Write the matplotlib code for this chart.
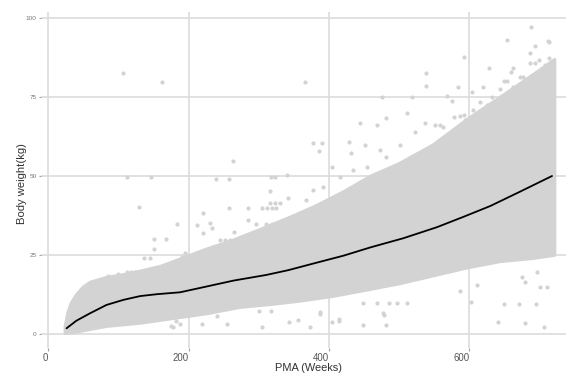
import matplotlib
matplotlib.use("Agg")
import matplotlib.pyplot as plt

plt.rcParams['font.family'] = ['Liberation Sans', 'DejaVu Sans']

# ---- data ----
# smoothed trend line
trend_x = [26, 40, 59, 83, 107, 131, 155, 188, 192, 223, 264, 311, 342, 383, 421,
           459, 506, 554, 592, 630, 672, 718]
trend_y = [1.9, 4.3, 6.6, 9.3, 10.9, 12.1, 12.7, 13.3, 13.5, 15.0, 17.0, 18.8, 20.3,
           22.7, 24.9, 27.5, 30.4, 33.9, 37.2, 40.6, 45.1, 50.1]

# envelope of the dense point cloud
cloud_upper_x = [24, 28, 33, 40, 50, 60, 83, 110, 131, 160, 190, 226, 260, 300, 344,
                 380, 420, 459, 500, 549, 597, 644, 690, 722]
cloud_upper_y = [2.5, 7, 10, 12.5, 15, 16.5, 18, 19, 20, 21.5, 24, 27, 29.5, 33, 37,
                 40.5, 45, 50, 54, 60, 68, 75, 82, 87]
cloud_lower_x = [24, 36, 59, 83, 131, 178, 226, 273, 320, 359, 406, 454, 501,
                 549, 597, 644, 691, 722]
cloud_lower_y = [0.3, 0.5, 1.5, 2.5, 3.5, 5, 6.5, 8.5, 9.5, 10.5, 12, 14, 16,
                 18.5, 21, 23, 24, 25]

# sparse individual observations outside the dense cloud
pts_x = [107, 162, 112, 147, 263, 239, 258, 317, 323, 340,
         129, 183, 151, 168, 151, 136, 145, 220, 212, 230, 234, 221, 258, 265, 316, 341,
         245, 252, 259, 266, 273, 280, 287, 294,
         285, 305, 312, 319, 325, 285, 296, 310, 319, 316, 323, 330,
         52, 57, 62, 45, 112, 118, 124, 130, 136, 85, 99, 190, 195,
         235, 254,
         175, 182, 188, 178, 219, 240, 255, 300, 317, 343, 356, 388, 415, 478, 304,
         373, 449, 481, 641, 679, 707, 603, 649, 671, 695,
         387, 404, 415, 477, 449, 468, 485, 497, 511, 611, 587, 697, 701, 711, 675, 680,
         366, 592, 538, 538, 584, 604, 620, 628, 654, 688, 694, 712, 687,
         475, 519, 512, 481, 468, 445, 569, 575, 579,
         378, 390, 386, 428, 451, 432, 404, 378, 473, 501, 416, 435, 454, 482, 368, 392,
         713, 687, 694, 700, 713, 708, 715, 663, 659, 649, 654, 672, 676, 682, 691, 701,
         711, 713, 672, 687, 694, 703, 714, 663, 644, 632, 646, 656, 668, 615, 625, 637,
         606, 587, 592, 594, 558, 563, 551, 537, 523]
pts_y = [82.6, 79.9, 49.9, 49.9, 54.9, 49.1, 49.1, 49.7, 49.9, 50.4,
         40.2, 34.9, 30.1, 30.1, 26.9, 24.0, 24.2, 38.3, 34.5, 35.1, 33.5, 32.0, 40.1,
         32.3, 45.3, 43.0,
         30, 30, 30, 30, 30, 30, 30, 30,
         39.9, 40, 40, 40, 40, 36.2, 35, 35, 35, 41.7, 41.7, 41.7,
         14.5, 16, 13.5, 13, 19.8, 19.8, 19.8, 19.8, 19.8, 18.5, 19, 24.6, 25.6,
         27.7, 28.3,
         2.5, 4.3, 3.4, 2.3, 3.4, 5.8, 3.4, 7.4, 7.4, 4.0, 4.6, 6.3, 4.3, 6.0, 2.3,
         2.3, 2.9, 2.9, 3.8, 3.5, 2.3, 10.3, 9.7, 9.5, 9.7,
         7.0, 4.0, 4.7, 6.6, 10, 10, 10, 10, 10, 15.6, 13.8, 19.8, 14.9, 14.9, 18, 16.6,
         79.9, 87.8, 82.6, 78.6, 78.2, 76.8, 78.2, 84.2, 93.1, 97.2, 91.2, 92.9, 89.1,
         75, 75, 70.1, 68.4, 66.2, 67, 75.4, 73.9, 68.7,
         60.4, 60.4, 58.1, 61, 59.9, 57.3, 53, 45.7, 58.3, 59.9, 49.9, 52, 53, 56.2,
         42.5, 46.7,
         92.4, 85.9, 85.9, 86.8, 87.3, 85.2, 84.7, 84.2, 83.1, 80.3, 80.3, 81.5, 81.5,
         80, 81, 82.6, 82.6, 81, 78.4, 78.9, 78.2, 79.2, 78.2, 78.2, 77.5, 75, 75, 75.4,
         74.7, 73.6, 72.6, 71.2, 71, 69.1, 69.4, 67.8, 66.2, 65.7, 66.2, 66.8, 64.1]

x_ticks = [0, 200, 400, 600]
y_ticks = [0, 25, 50, 75, 100]
x_label = "PMA (Weeks)"
y_label = "Body weight(kg)"

# ---- figure ----
W, H = 566, 375
fig = plt.figure(figsize=(W / 100, H / 100), dpi=100)
ax = fig.add_axes([40.65 / W, 27.1 / H, 538.65 / W, 335.9 / H])

pt_color = '#d3d3d3'
grid_color = '#dcdcdc'

ax.set_xlim(-10.9, 756.9)
ax.set_ylim(-4.3, 102.0)

# dense cloud as filled polygon
poly_x = list(cloud_upper_x) + list(cloud_lower_x[::-1])
poly_y = list(cloud_upper_y) + list(cloud_lower_y[::-1])
ax.fill(poly_x, poly_y, facecolor=pt_color, edgecolor=pt_color, linewidth=2.2,
        joinstyle='round', zorder=2)

ax.scatter(pts_x, pts_y, s=9, color=pt_color, linewidths=0, zorder=3)
ax.plot(trend_x, trend_y, color='black', linewidth=1.3, zorder=4,
        solid_joinstyle='round', solid_capstyle='round')

# axes styling
for sp in ax.spines.values():
    sp.set_visible(False)
ax.set_xticks(x_ticks)
ax.set_yticks(y_ticks)
ax.grid(True, color=grid_color, linewidth=1.2)
ax.set_axisbelow(True)
ax.tick_params(axis='x', length=2.5, width=0.8, color='#a0a0a0', pad=1.2,
               labelsize=6.9, labelcolor='#555555')
ax.tick_params(axis='y', length=1.8, width=0.8, color='#a0a0a0', pad=1.0,
               labelsize=4.6, labelcolor='#777777')
for lab in ax.get_xticklabels():
    lab.set_horizontalalignment('right')

ax.set_xlabel(x_label, fontsize=7.9, color='#333333')
ax.set_ylabel(y_label, fontsize=8.1, color='#333333')
ax.xaxis.set_label_coords(0.497, -0.046)
ax.yaxis.set_label_coords(-0.0253, 0.489)

fig.savefig('out.png', dpi=100)
